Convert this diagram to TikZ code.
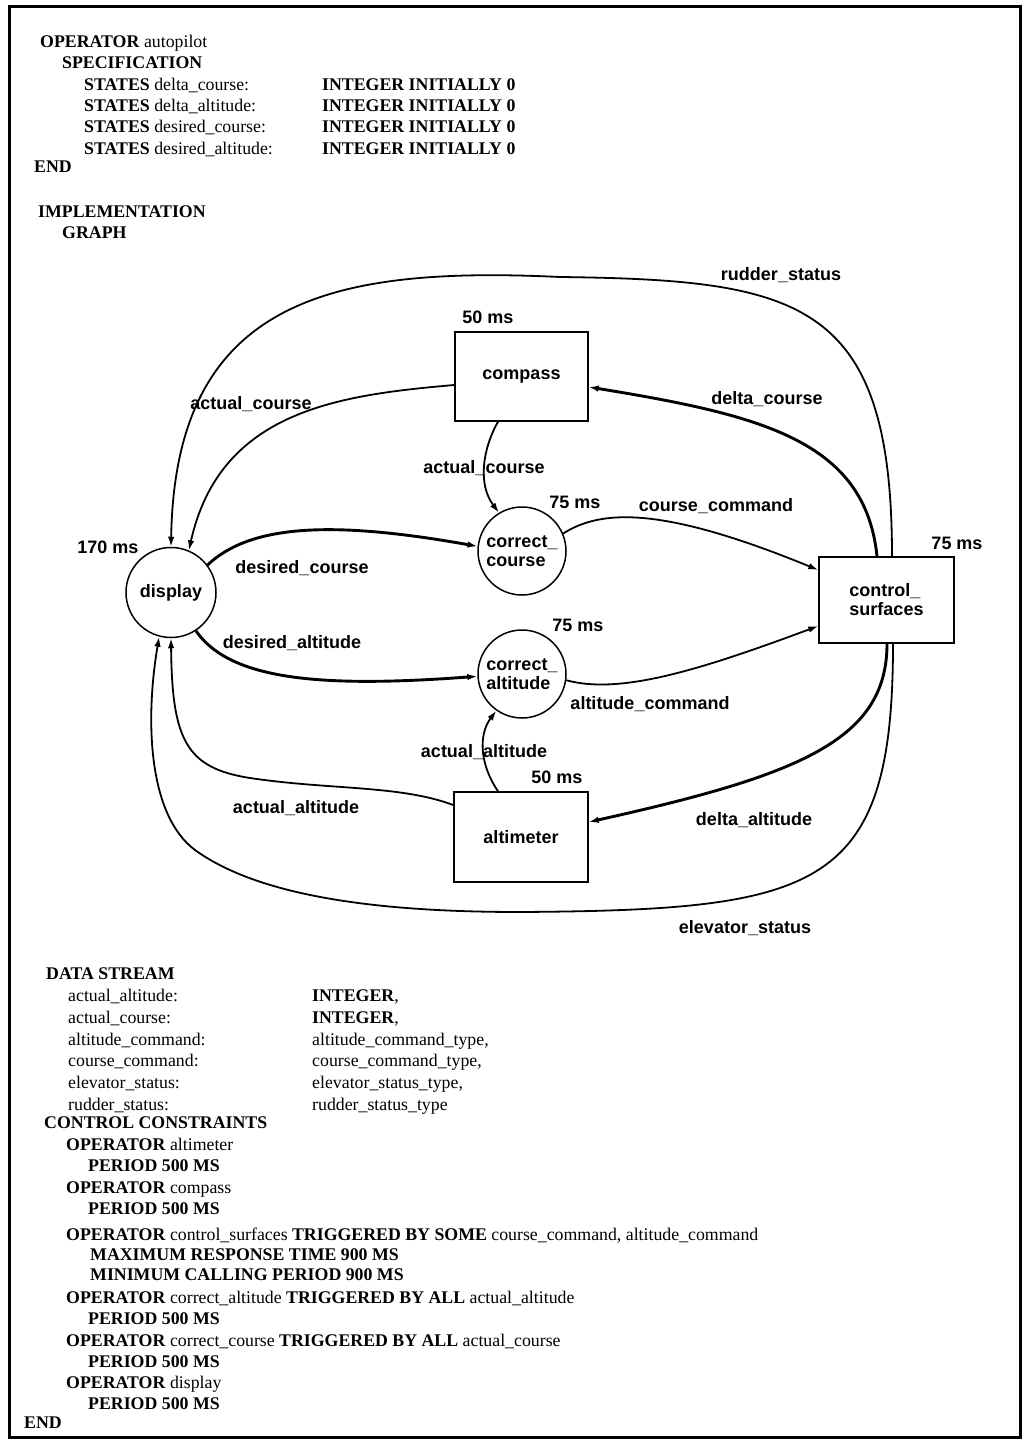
\documentclass[tikz,border=0pt]{standalone}
\usepackage{fontspec}
\setmainfont{Liberation Serif}
\setsansfont{Liberation Sans}
\usetikzlibrary{arrows.meta,calc}
\newcommand\kw[1]{\textbf{#1}}
\begin{document}
\begin{tikzpicture}[x=1pt,y=-1pt,
  tx/.style={anchor=base west,inner sep=0pt,font=\fontsize{17.8}{20}\selectfont},
  lbl/.style={inner sep=0pt,font=\sffamily\bfseries\fontsize{18}{19}\selectfont},
  bubble/.style={draw,circle,line width=1.5pt,minimum size=88pt,inner sep=0pt,align=left,font=\sffamily\bfseries\fontsize{18}{19}\selectfont},
  opbox/.style={draw,rectangle,line width=1.5pt,inner sep=0pt,align=left,font=\sffamily\bfseries\fontsize{18}{19}\selectfont},
  flow/.style={draw,line width=1.8pt,-{Latex[length=10pt,width=6.5pt]}},
  heavy/.style={flow,line width=2.9pt}]
\useasboundingbox (0,0) rectangle (1029,1442);
\fill[white] (0,0) rectangle (1029,1442);
\draw[line width=3pt] (9,7) rectangle (1020,1437);

% ---------- header text
\node[tx] (h1) at (40,48) {\kw{OPERATOR} autopilot};
\node[tx] (h2) at (62,69) {\kw{SPECIFICATION}};
\node[tx] (h3) at (84,91) {\kw{STATES} delta\_course:};
\node[tx] (h4) at (84,112) {\kw{STATES} delta\_altitude:};
\node[tx] (h5) at (84,133) {\kw{STATES} desired\_course:};
\node[tx] (h6) at (84,155) {\kw{STATES} desired\_altitude:};
\node[tx] (i3) at (322,91) {\kw{INTEGER INITIALLY 0}};
\node[tx] (i4) at (322,112) {\kw{INTEGER INITIALLY 0}};
\node[tx] (i5) at (322,133) {\kw{INTEGER INITIALLY 0}};
\node[tx] (i6) at (322,155) {\kw{INTEGER INITIALLY 0}};
\node[tx] (h7) at (34,173) {\kw{END}};
\node[tx] (h8) at (38,217) {\kw{IMPLEMENTATION}};
\node[tx] (h9) at (62,238) {\kw{GRAPH}};

% ---------- graph nodes
\node[opbox,minimum width=133pt,minimum height=89pt] (compass) at (521.5,376.5) {compass};
\node[opbox,minimum width=135pt,minimum height=86pt] (cs) at (886.5,600) {control\_\\surfaces};
\node[opbox,minimum width=134pt,minimum height=90pt] (alt) at (521,837) {altimeter};
\node[bubble,minimum size=90pt] (display) at (171,592.5) {display};
\node[bubble] (cc) at (522,551) {correct\_\\course};
\node[bubble] (ca) at (522,674) {correct\_\\altitude};

% timing labels
\node[lbl] (t1) at (488,317) {50 ms};
\node[lbl] (t2) at (575,502) {75 ms};
\node[lbl] (t3) at (108,547) {170 ms};
\node[lbl] (t4) at (578,625) {75 ms};
\node[lbl] (t5) at (957,543) {75 ms};
\node[lbl] (t6) at (557,777) {50 ms};

% ---------- connectors
\draw[flow] ($(cs.north)+(5.5,0)$) .. controls (892,300) and (800,280) .. (560,277)
   .. controls (330,266) and (175,300) .. (display.north);
\draw[flow] ($(compass.west)+(0,8.5)$) .. controls (340,395) and (220,410) .. (display.67);
\draw[heavy] ($(cs.north)+(-9.5,0)$) .. controls (865,440) and (760,415) .. ($(compass.east)+(0,10.5)$);
\draw[flow] ($(compass.south)+(-23.5,0)$) .. controls (482,450) and (478,485) .. (cc.121);
\draw[flow] (cc.23) .. controls (600,510) and (660,505) .. ($(cs.west)+(0,-30)$);
\draw[heavy] (display.37) .. controls (250,525) and (330,520) .. (cc.174);
\draw[heavy] (display.-57) .. controls (230,680) and (320,688) .. (ca.183);
\draw[flow] (ca.-8) .. controls (620,695) and (700,670) .. ($(cs.west)+(0,26)$);
\draw[flow] ($(alt.north)+(-23,0)$) .. controls (480,765) and (478,735) .. (ca.-125);
\draw[flow] ($(alt.west)+(0,-32)$) .. controls (400,785) and (330,790) .. (250,778)
   .. controls (186,768) and (172,740) .. (display.south);
\draw[heavy] ($(cs.south)+(0.5,0)$) .. controls (887,740) and (800,775) .. ($(alt.east)+(0,-15)$);
\draw[flow] ($(cs.south)+(6.5,0)$) .. controls (893,890) and (820,910) .. (520,912)
   .. controls (380,912) and (260,897) .. (195,850)
   .. controls (148,815) and (145,720) .. (display.-105);

% connector labels
\node[lbl] (l1) at (781,275) {rudder\_status};
\node[lbl] (l2) at (251,404) {actual\_course};
\node[lbl] (l3) at (767,399) {delta\_course};
\node[lbl] (l4) at (484,468) {actual\_course};
\node[lbl] (l5) at (716,506) {course\_command};
\node[lbl] (l6) at (302,568) {desired\_course};
\node[lbl] (l7) at (292,643) {desired\_altitude};
\node[lbl] (l8) at (650,704) {altitude\_command};
\node[lbl] (l9) at (484,752) {actual\_altitude};
\node[lbl] (l10) at (296,808) {actual\_altitude};
\node[lbl] (l11) at (754,820) {delta\_altitude};
\node[lbl] (l12) at (745,928) {elevator\_status};

% ---------- footer text
\node[tx] (d0) at (46,979) {\kw{DATA STREAM}};
\node[tx] (d1) at (68,1001) {actual\_altitude:};
\node[tx] (d2) at (68,1023) {actual\_course:};
\node[tx] (d3) at (68,1045) {altitude\_command:};
\node[tx] (d4) at (68,1066) {course\_command:};
\node[tx] (d5) at (68,1088) {elevator\_status:};
\node[tx] (d6) at (68,1110) {rudder\_status:};
\node[tx] (e1) at (312,1001) {\kw{INTEGER},};
\node[tx] (e2) at (312,1023) {\kw{INTEGER},};
\node[tx] (e3) at (312,1045) {altitude\_command\_type,};
\node[tx] (e4) at (312,1066) {course\_command\_type,};
\node[tx] (e5) at (312,1088) {elevator\_status\_type,};
\node[tx] (e6) at (312,1110) {rudder\_status\_type};
\node[tx] (c0) at (44,1128) {\kw{CONTROL CONSTRAINTS}};
\node[tx] (c1) at (66,1150) {\kw{OPERATOR} altimeter};
\node[tx] (c2) at (88,1171) {\kw{PERIOD 500 MS}};
\node[tx] (c3) at (66,1193) {\kw{OPERATOR} compass};
\node[tx] (c4) at (88,1214) {\kw{PERIOD 500 MS}};
\node[tx] (c5) at (66,1240) {\kw{OPERATOR} control\_surfaces \kw{TRIGGERED BY SOME} course\_command, altitude\_command};
\node[tx] (c6) at (90,1260) {\kw{MAXIMUM RESPONSE TIME 900 MS}};
\node[tx] (c7) at (90,1280) {\kw{MINIMUM CALLING PERIOD 900 MS}};
\node[tx] (c8) at (66,1303) {\kw{OPERATOR} correct\_altitude \kw{TRIGGERED BY ALL} actual\_altitude};
\node[tx] (c9) at (88,1324) {\kw{PERIOD 500 MS}};
\node[tx] (c10) at (66,1346) {\kw{OPERATOR} correct\_course \kw{TRIGGERED BY ALL} actual\_course};
\node[tx] (c11) at (88,1367) {\kw{PERIOD 500 MS}};
\node[tx] (c12) at (66,1388) {\kw{OPERATOR} display};
\node[tx] (c13) at (88,1409) {\kw{PERIOD 500 MS}};
\node[tx] (c14) at (24,1428) {\kw{END}};
\end{tikzpicture}
\end{document}
